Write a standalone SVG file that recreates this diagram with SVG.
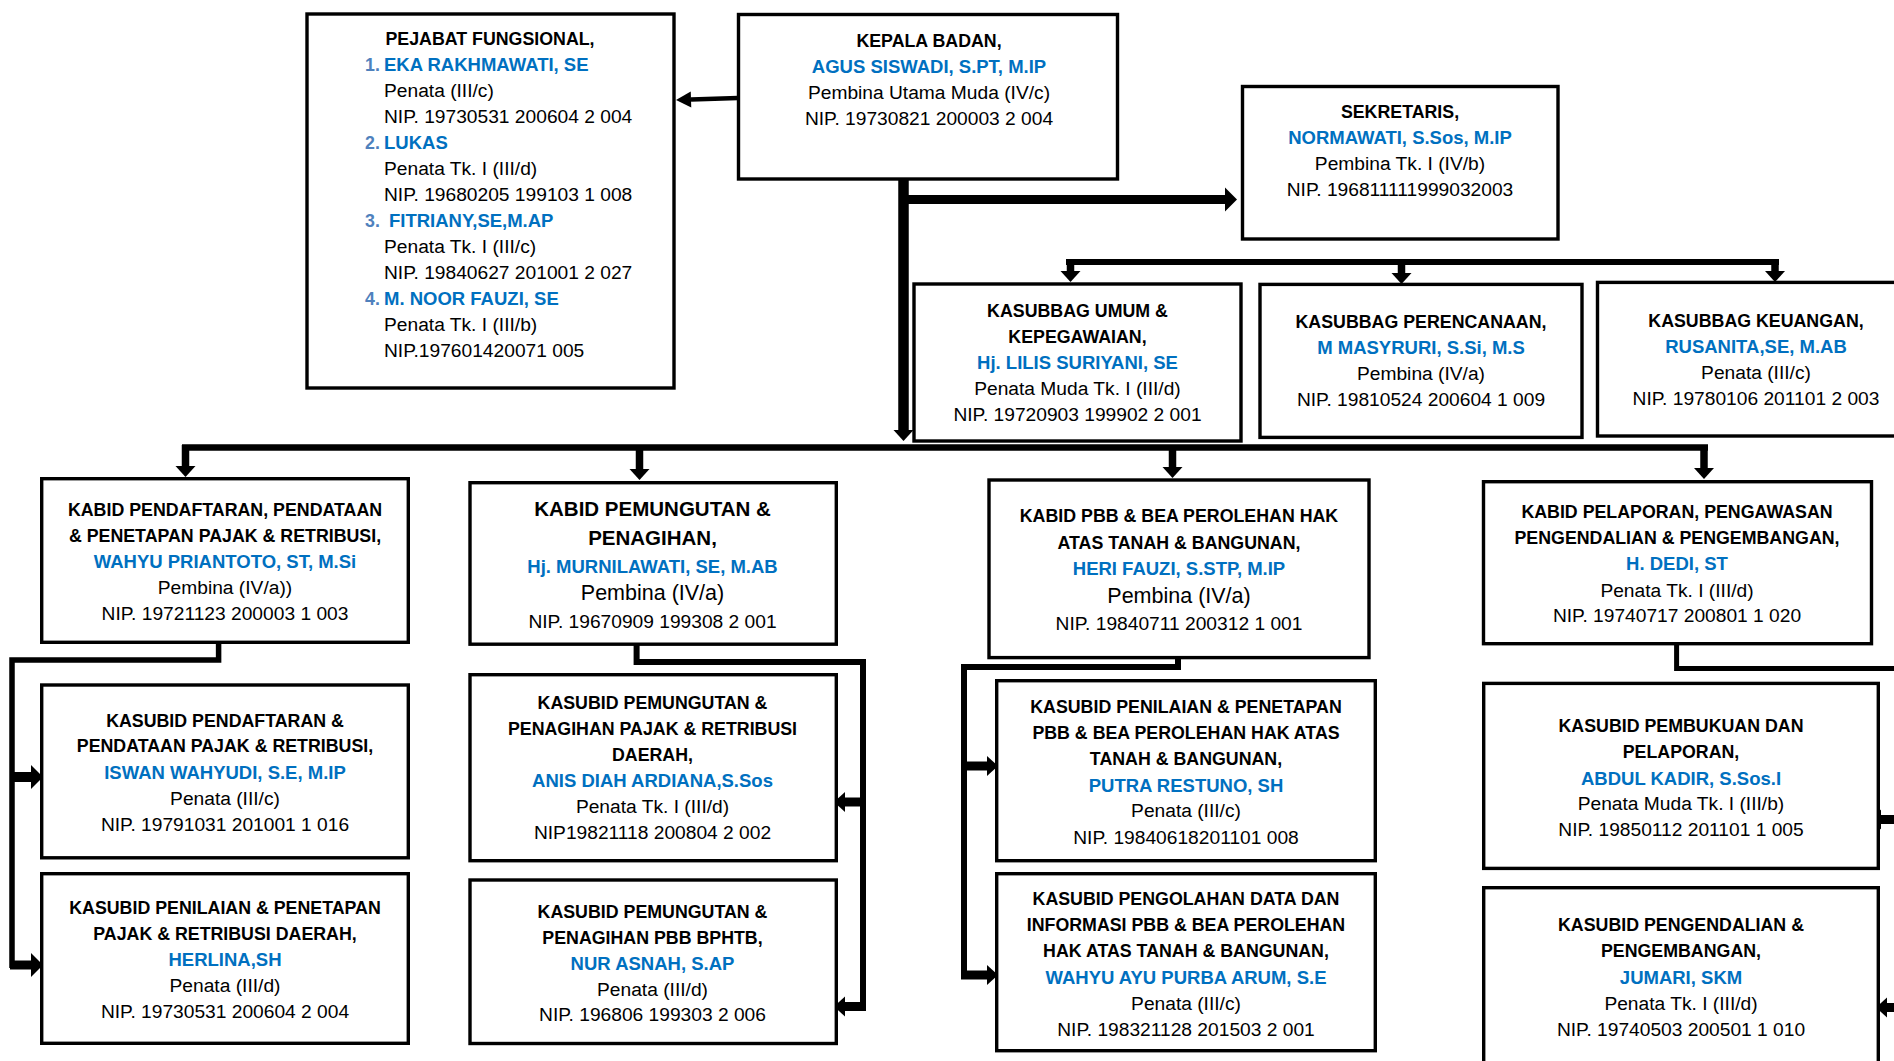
<svg xmlns="http://www.w3.org/2000/svg" width="1894" height="1061" viewBox="0 0 1894 1061">
<style>
.box{fill:#fff;stroke:#000;stroke-width:3.4}
text{font-family:"Liberation Sans",Arial,sans-serif;font-size:19.2px;text-anchor:middle;fill:#000}
.b{font-weight:bold;font-size:17.8px}
.n{font-weight:bold;font-size:18.5px;fill:#0070C0}
.num{font-weight:bold;font-size:17.8px;fill:#4F81BD;text-anchor:start}
.l{text-anchor:start}
.big{font-size:20.5px}
.rb{font-size:21.5px}
.conn{fill:none;stroke:#000;stroke-linejoin:miter;stroke-linecap:butt}
</style>
<defs>
<marker id="hA" markerUnits="userSpaceOnUse" markerWidth="16" markerHeight="18" refX="0" refY="8" orient="auto" overflow="visible"><path d="M0,0 L15,8 L0,16 z" fill="#000"/></marker>
<marker id="hB" markerUnits="userSpaceOnUse" markerWidth="12" markerHeight="22" refX="0" refY="10" orient="auto" overflow="visible"><path d="M0,0 L11,10 L0,20 z" fill="#000"/></marker>
<marker id="hC" markerUnits="userSpaceOnUse" markerWidth="13" markerHeight="26" refX="0" refY="12" orient="auto" overflow="visible"><path d="M0,0 L12,12 L0,24 z" fill="#000"/></marker>
</defs>
<rect width="1894" height="1061" fill="#fff"/>

<g id="connectors">
<line class="conn" x1="738" y1="98" x2="691" y2="99.5" stroke-width="4.5" marker-end="url(#hA)"/>
<line class="conn" x1="903.5" y1="179" x2="903.5" y2="430" stroke-width="10.5" marker-end="url(#hB)"/>
<line class="conn" x1="908" y1="199.5" x2="1225" y2="199.5" stroke-width="9" marker-end="url(#hC)"/>
<line class="conn" x1="1066" y1="262" x2="1779" y2="262" stroke-width="6"/>
<line class="conn" x1="1070.5" y1="259" x2="1070.5" y2="271" stroke-width="7.5" marker-end="url(#hB)"/>
<line class="conn" x1="1401.5" y1="259" x2="1401.5" y2="273" stroke-width="7.5" marker-end="url(#hB)"/>
<line class="conn" x1="1775" y1="259" x2="1775" y2="271" stroke-width="7.5" marker-end="url(#hB)"/>
<line class="conn" x1="182" y1="447.5" x2="1708" y2="447.5" stroke-width="6.5"/>
<line class="conn" x1="185.5" y1="445" x2="185.5" y2="466" stroke-width="7.5" marker-end="url(#hB)"/>
<line class="conn" x1="639.5" y1="445" x2="639.5" y2="469" stroke-width="7.5" marker-end="url(#hB)"/>
<line class="conn" x1="1172.5" y1="445" x2="1172.5" y2="467" stroke-width="7.5" marker-end="url(#hB)"/>
<line class="conn" x1="1704" y1="445" x2="1704" y2="468" stroke-width="7.5" marker-end="url(#hB)"/>
<path class="conn" d="M218.6,643 V660 H12 V968" stroke-width="5.5"/>
<line class="conn" x1="10" y1="777" x2="31" y2="777" stroke-width="10" marker-end="url(#hC)"/>
<line class="conn" x1="10" y1="965" x2="31" y2="965" stroke-width="9" marker-end="url(#hC)"/>
<path class="conn" d="M636.6,645 V662 H863 V1010" stroke-width="6"/>
<line class="conn" x1="866" y1="802" x2="845" y2="802" stroke-width="9" marker-end="url(#hB)"/>
<line class="conn" x1="866" y1="1006.5" x2="845" y2="1006.5" stroke-width="9" marker-end="url(#hB)"/>
<path class="conn" d="M1178,658 V667 H964 V978" stroke-width="6"/>
<line class="conn" x1="961" y1="766" x2="987" y2="766" stroke-width="9" marker-end="url(#hB)"/>
<line class="conn" x1="961" y1="975" x2="987" y2="975" stroke-width="9" marker-end="url(#hB)"/>
<path class="conn" d="M1676.6,644 V668.5 H1905 V1010" stroke-width="5"/>
<line class="conn" x1="1905" y1="819.5" x2="1881" y2="819.5" stroke-width="9" marker-end="url(#hB)"/>
<line class="conn" x1="1905" y1="1007.5" x2="1887" y2="1007.5" stroke-width="9" marker-end="url(#hB)"/>
</g>

<g id="pejabat-fungsional">
<rect class="box" x="307" y="14" width="367" height="374"/>
<text class="b" x="490" y="45">PEJABAT FUNGSIONAL,</text>
<text class="num" x="365" y="71">1.</text><text class="n l" x="384" y="71">EKA RAKHMAWATI, SE</text>
<text class="l" x="384" y="97">Penata (III/c)</text>
<text class="l" x="384" y="123">NIP. 19730531 200604 2 004</text>
<text class="num" x="365" y="149">2.</text><text class="n l" x="384" y="149">LUKAS</text>
<text class="l" x="384" y="175">Penata Tk. I (III/d)</text>
<text class="l" x="384" y="201">NIP. 19680205 199103 1 008</text>
<text class="num" x="365" y="227">3.</text><text class="n l" x="389" y="227">FITRIANY,SE,M.AP</text>
<text class="l" x="384" y="253">Penata Tk. I (III/c)</text>
<text class="l" x="384" y="279">NIP. 19840627 201001 2 027</text>
<text class="num" x="365" y="305">4.</text><text class="n l" x="384" y="305">M. NOOR FAUZI, SE</text>
<text class="l" x="384" y="331">Penata Tk. I (III/b)</text>
<text class="l" x="384" y="357">NIP.197601420071 005</text>
</g>

<g id="kepala-badan">
<rect class="box" x="738.5" y="14.5" width="379" height="164.5"/>
<text class="b" x="929" y="46.7">KEPALA BADAN,</text>
<text class="n" x="929" y="72.7">AGUS SISWADI, S.PT, M.IP</text>
<text x="929" y="98.7">Pembina Utama Muda (IV/c)</text>
<text x="929" y="124.7">NIP. 19730821 200003 2 004</text>
</g>

<g id="sekretaris">
<rect class="box" x="1242.5" y="86.5" width="315.5" height="152.5"/>
<text class="b" x="1400" y="118">SEKRETARIS,</text>
<text class="n" x="1400" y="144">NORMAWATI, S.Sos, M.IP</text>
<text x="1400" y="170">Pembina Tk. I (IV/b)</text>
<text x="1400" y="196">NIP. 196811111999032003</text>
</g>

<g id="kasubbag-umum">
<rect class="box" x="914" y="284" width="327" height="157"/>
<text class="b" x="1077.5" y="317">KASUBBAG UMUM &amp;</text>
<text class="b" x="1077.5" y="343">KEPEGAWAIAN,</text>
<text class="n" x="1077.5" y="369">Hj. LILIS SURIYANI, SE</text>
<text x="1077.5" y="395">Penata Muda Tk. I (III/d)</text>
<text x="1077.5" y="421">NIP. 19720903 199902 2 001</text>
</g>

<g id="kasubbag-perencanaan">
<rect class="box" x="1260" y="284.4" width="322" height="153"/>
<text class="b" x="1421" y="328">KASUBBAG PERENCANAAN,</text>
<text class="n" x="1421" y="354">M MASYRURI, S.Si, M.S</text>
<text x="1421" y="380">Pembina (IV/a)</text>
<text x="1421" y="406">NIP. 19810524 200604 1 009</text>
</g>

<g id="kasubbag-keuangan">
<rect class="box" x="1597.5" y="282.4" width="320" height="153.6"/>
<text class="b" x="1756" y="327">KASUBBAG KEUANGAN,</text>
<text class="n" x="1756" y="353">RUSANITA,SE, M.AB</text>
<text x="1756" y="379">Penata (III/c)</text>
<text x="1756" y="405">NIP. 19780106 201101 2 003</text>
</g>

<g id="kabid-pendaftaran">
<rect class="box" x="41.7" y="478.7" width="366.6" height="163.6"/>
<text class="b" x="225" y="516">KABID PENDAFTARAN, PENDATAAN</text>
<text class="b" x="225" y="542">&amp; PENETAPAN PAJAK &amp; RETRIBUSI,</text>
<text class="n" x="225" y="568">WAHYU PRIANTOTO, ST, M.Si</text>
<text x="225" y="594">Pembina (IV/a))</text>
<text x="225" y="620">NIP. 19721123 200003 1 003</text>
</g>

<g id="kabid-pemungutan">
<rect class="box" x="470" y="482.7" width="366.3" height="161.5"/>
<text class="b big" x="652.5" y="516.4">KABID PEMUNGUTAN &amp;</text>
<text class="b big" x="652.5" y="545.4">PENAGIHAN,</text>
<text class="n" x="652.5" y="572.8">Hj. MURNILAWATI, SE, M.AB</text>
<text class="rb" x="652.5" y="600">Pembina (IV/a)</text>
<text x="652.5" y="627.7">NIP. 19670909 199308 2 001</text>
</g>

<g id="kabid-pbb">
<rect class="box" x="989" y="480" width="380" height="177.6"/>
<text class="b" x="1179" y="522">KABID PBB &amp; BEA PEROLEHAN HAK</text>
<text class="b" x="1179" y="548.8">ATAS TANAH &amp; BANGUNAN,</text>
<text class="n" x="1179" y="575">HERI FAUZI, S.STP, M.IP</text>
<text class="rb" x="1179" y="603">Pembina (IV/a)</text>
<text x="1179" y="629.8">NIP. 19840711 200312 1 001</text>
</g>

<g id="kabid-pelaporan">
<rect class="box" x="1483.5" y="481.7" width="388" height="162"/>
<text class="b" x="1677" y="518">KABID PELAPORAN, PENGAWASAN</text>
<text class="b" x="1677" y="544">PENGENDALIAN &amp; PENGEMBANGAN,</text>
<text class="n" x="1677" y="570">H. DEDI, ST</text>
<text x="1677" y="596.5">Penata Tk. I (III/d)</text>
<text x="1677" y="622">NIP. 19740717 200801 1 020</text>
</g>

<g id="kasubid-pendaftaran">
<rect class="box" x="41.7" y="685" width="366.6" height="172.8"/>
<text class="b" x="225" y="726.7">KASUBID PENDAFTARAN &amp;</text>
<text class="b" x="225" y="752.4">PENDATAAN PAJAK &amp; RETRIBUSI,</text>
<text class="n" x="225" y="778.6">ISWAN WAHYUDI, S.E, M.IP</text>
<text x="225" y="804.7">Penata (III/c)</text>
<text x="225" y="830.8">NIP. 19791031 201001 1 016</text>
</g>

<g id="kasubid-penilaian-pajak">
<rect class="box" x="41.7" y="873.7" width="366.6" height="169.6"/>
<text class="b" x="225" y="913.5">KASUBID PENILAIAN &amp; PENETAPAN</text>
<text class="b" x="225" y="939.6">PAJAK &amp; RETRIBUSI DAERAH,</text>
<text class="n" x="225" y="965.8">HERLINA,SH</text>
<text x="225" y="991.5">Penata (III/d)</text>
<text x="225" y="1017.6">NIP. 19730531 200604 2 004</text>
</g>

<g id="kasubid-pemungutan-pajak">
<rect class="box" x="470" y="674.7" width="366.3" height="186"/>
<text class="b" x="652.5" y="709">KASUBID PEMUNGUTAN &amp;</text>
<text class="b" x="652.5" y="735">PENAGIHAN PAJAK &amp; RETRIBUSI</text>
<text class="b" x="652.5" y="761">DAERAH,</text>
<text class="n" x="652.5" y="787">ANIS DIAH ARDIANA,S.Sos</text>
<text x="652.5" y="813">Penata Tk. I (III/d)</text>
<text x="652.5" y="839">NIP19821118 200804 2 002</text>
</g>

<g id="kasubid-pemungutan-pbb">
<rect class="box" x="470" y="880" width="366.3" height="163.5"/>
<text class="b" x="652.5" y="917.7">KASUBID PEMUNGUTAN &amp;</text>
<text class="b" x="652.5" y="943.8">PENAGIHAN PBB BPHTB,</text>
<text class="n" x="652.5" y="969.5">NUR ASNAH, S.AP</text>
<text x="652.5" y="995.5">Penata (III/d)</text>
<text x="652.5" y="1021.4">NIP. 196806 199303 2 006</text>
</g>

<g id="kasubid-penilaian-pbb">
<rect class="box" x="996.7" y="680.7" width="378.6" height="180"/>
<text class="b" x="1186" y="713">KASUBID PENILAIAN &amp; PENETAPAN</text>
<text class="b" x="1186" y="739">PBB &amp; BEA PEROLEHAN HAK ATAS</text>
<text class="b" x="1186" y="765">TANAH &amp; BANGUNAN,</text>
<text class="n" x="1186" y="791.5">PUTRA RESTUNO, SH</text>
<text x="1186" y="817.4">Penata (III/c)</text>
<text x="1186" y="843.5">NIP. 19840618201101 008</text>
</g>

<g id="kasubid-pengolahan">
<rect class="box" x="996.7" y="873.7" width="378.6" height="177"/>
<text class="b" x="1186" y="905">KASUBID PENGOLAHAN DATA DAN</text>
<text class="b" x="1186" y="931">INFORMASI PBB &amp; BEA PEROLEHAN</text>
<text class="b" x="1186" y="957.3">HAK ATAS TANAH &amp; BANGUNAN,</text>
<text class="n" x="1186" y="984">WAHYU AYU PURBA ARUM, S.E</text>
<text x="1186" y="1010">Penata (III/c)</text>
<text x="1186" y="1035.7">NIP. 198321128 201503 2 001</text>
</g>

<g id="kasubid-pembukuan">
<rect class="box" x="1483.7" y="683.4" width="394.6" height="185"/>
<text class="b" x="1681" y="731.8">KASUBID PEMBUKUAN DAN</text>
<text class="b" x="1681" y="758.4">PELAPORAN,</text>
<text class="n" x="1681" y="784.5">ABDUL KADIR, S.Sos.I</text>
<text x="1681" y="810">Penata Muda Tk. I (III/b)</text>
<text x="1681" y="836">NIP. 19850112 201101 1 005</text>
</g>

<g id="kasubid-pengendalian">
<rect class="box" x="1483.7" y="887.7" width="394.6" height="200"/>
<text class="b" x="1681" y="931">KASUBID PENGENDALIAN &amp;</text>
<text class="b" x="1681" y="957.3">PENGEMBANGAN,</text>
<text class="n" x="1681" y="984">JUMARI, SKM</text>
<text x="1681" y="1010">Penata Tk. I (III/d)</text>
<text x="1681" y="1035.7">NIP. 19740503 200501 1 010</text>
</g>
</svg>
